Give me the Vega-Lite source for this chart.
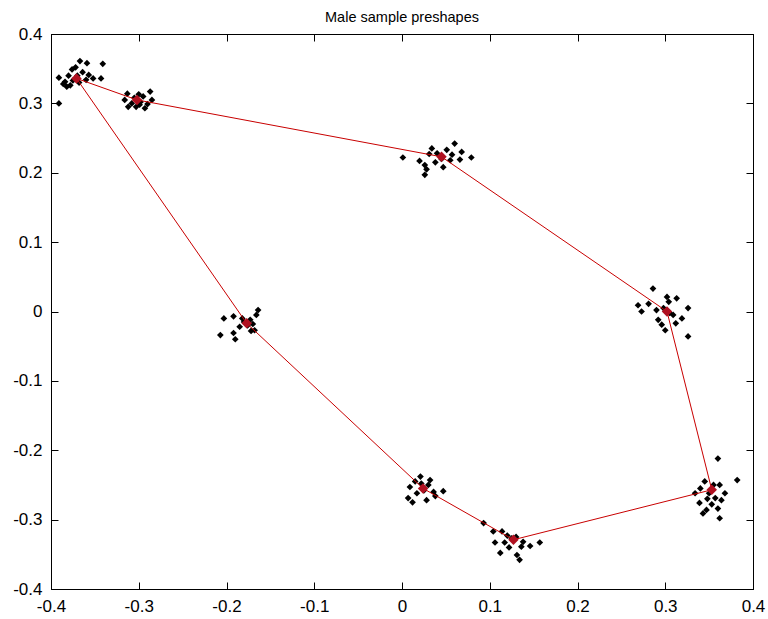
{
  "$schema": "https://vega.github.io/schema/vega-lite/v6.json",
  "width": 702,
  "height": 555,
  "autosize": {"type": "none"},
  "padding": {"left": 51, "top": 34, "right": 15, "bottom": 30},
  "background": "white",
  "title": {"text": "Male sample preshapes", "font": "Liberation Sans", "fontSize": 14.5, "fontWeight": "normal", "color": "black", "offset": 0, "anchor": "middle", "frame": "group"},
  "config": {"view": {"stroke": "black", "strokeWidth": 1}},
  "datasets": {
    "samples": [
      {"x": -0.367, "y": 0.361}, {"x": -0.359, "y": 0.358}, {"x": -0.341, "y": 0.357}, {"x": -0.376, "y": 0.349}, {"x": -0.391, "y": 0.337}, {"x": -0.384, "y": 0.331}, {"x": -0.382, "y": 0.324}, {"x": -0.378, "y": 0.326}, {"x": -0.352, "y": 0.336}, {"x": -0.343, "y": 0.336}, {"x": -0.391, "y": 0.300}, {"x": -0.370, "y": 0.340}, {"x": -0.364, "y": 0.345}, {"x": -0.375, "y": 0.333}, {"x": -0.360, "y": 0.334}, {"x": -0.368, "y": 0.330}, {"x": -0.380, "y": 0.340}, {"x": -0.372, "y": 0.352}, {"x": -0.357, "y": 0.341}, {"x": -0.386, "y": 0.328},
      {"x": -0.313, "y": 0.314}, {"x": -0.312, "y": 0.295}, {"x": -0.293, "y": 0.293}, {"x": -0.287, "y": 0.317}, {"x": -0.285, "y": 0.305}, {"x": -0.299, "y": 0.298}, {"x": -0.305, "y": 0.308}, {"x": -0.298, "y": 0.302}, {"x": -0.308, "y": 0.300}, {"x": -0.295, "y": 0.310}, {"x": -0.316, "y": 0.305}, {"x": -0.290, "y": 0.299}, {"x": -0.303, "y": 0.295}, {"x": -0.300, "y": 0.313},
      {"x": 0.001, "y": 0.222}, {"x": 0.020, "y": 0.217}, {"x": 0.026, "y": 0.211}, {"x": 0.028, "y": 0.205}, {"x": 0.026, "y": 0.197}, {"x": 0.034, "y": 0.235}, {"x": 0.060, "y": 0.242}, {"x": 0.068, "y": 0.230}, {"x": 0.066, "y": 0.219}, {"x": 0.079, "y": 0.222}, {"x": 0.047, "y": 0.208}, {"x": 0.055, "y": 0.218}, {"x": 0.051, "y": 0.233}, {"x": 0.040, "y": 0.228}, {"x": 0.045, "y": 0.220}, {"x": 0.038, "y": 0.215}, {"x": 0.057, "y": 0.226}, {"x": 0.031, "y": 0.227},
      {"x": 0.286, "y": 0.033}, {"x": 0.269, "y": 0.009}, {"x": 0.273, "y": 0.000}, {"x": 0.281, "y": 0.011}, {"x": 0.302, "y": 0.021}, {"x": 0.304, "y": 0.014}, {"x": 0.292, "y": -0.012}, {"x": 0.296, "y": -0.019}, {"x": 0.300, "y": -0.027}, {"x": 0.309, "y": -0.005}, {"x": 0.319, "y": -0.010}, {"x": 0.326, "y": 0.005}, {"x": 0.326, "y": -0.036}, {"x": 0.313, "y": 0.019}, {"x": 0.298, "y": 0.005}, {"x": 0.305, "y": -0.002}, {"x": 0.290, "y": 0.002}, {"x": 0.312, "y": -0.017},
      {"x": 0.360, "y": -0.212}, {"x": 0.382, "y": -0.243}, {"x": 0.345, "y": -0.245}, {"x": 0.340, "y": -0.255}, {"x": 0.334, "y": -0.262}, {"x": 0.362, "y": -0.250}, {"x": 0.364, "y": -0.272}, {"x": 0.360, "y": -0.284}, {"x": 0.347, "y": -0.286}, {"x": 0.343, "y": -0.291}, {"x": 0.362, "y": -0.298}, {"x": 0.357, "y": -0.269}, {"x": 0.350, "y": -0.262}, {"x": 0.355, "y": -0.250}, {"x": 0.348, "y": -0.270}, {"x": 0.368, "y": -0.262}, {"x": 0.339, "y": -0.276}, {"x": 0.353, "y": -0.278},
      {"x": 0.093, "y": -0.305}, {"x": 0.104, "y": -0.317}, {"x": 0.114, "y": -0.317}, {"x": 0.106, "y": -0.333}, {"x": 0.112, "y": -0.348}, {"x": 0.131, "y": -0.351}, {"x": 0.134, "y": -0.358}, {"x": 0.136, "y": -0.339}, {"x": 0.146, "y": -0.338}, {"x": 0.157, "y": -0.333}, {"x": 0.117, "y": -0.333}, {"x": 0.138, "y": -0.332}, {"x": 0.125, "y": -0.327}, {"x": 0.120, "y": -0.323}, {"x": 0.130, "y": -0.325}, {"x": 0.122, "y": -0.340},
      {"x": 0.009, "y": -0.253}, {"x": 0.021, "y": -0.238}, {"x": 0.032, "y": -0.243}, {"x": 0.047, "y": -0.259}, {"x": 0.036, "y": -0.260}, {"x": 0.007, "y": -0.269}, {"x": 0.012, "y": -0.275}, {"x": 0.028, "y": -0.272}, {"x": 0.017, "y": -0.262}, {"x": 0.030, "y": -0.250}, {"x": 0.022, "y": -0.248}, {"x": 0.025, "y": -0.258}, {"x": 0.015, "y": -0.245}, {"x": 0.038, "y": -0.266},
      {"x": -0.203, "y": -0.010}, {"x": -0.207, "y": -0.034}, {"x": -0.192, "y": -0.031}, {"x": -0.190, "y": -0.040}, {"x": -0.192, "y": -0.007}, {"x": -0.164, "y": 0.002}, {"x": -0.166, "y": -0.005}, {"x": -0.168, "y": -0.027}, {"x": -0.185, "y": -0.022}, {"x": -0.173, "y": -0.012}, {"x": -0.180, "y": -0.015}, {"x": -0.176, "y": -0.020}, {"x": -0.170, "y": -0.018}, {"x": -0.182, "y": -0.010}, {"x": -0.172, "y": -0.028}
    ],
    "mean": [
      {"i": 1, "x": -0.371, "y": 0.336},
      {"i": 2, "x": -0.302, "y": 0.305},
      {"i": 3, "x": 0.045, "y": 0.223},
      {"i": 4, "x": 0.302, "y": 0.000},
      {"i": 5, "x": 0.353, "y": -0.257},
      {"i": 6, "x": 0.127, "y": -0.329},
      {"i": 7, "x": 0.024, "y": -0.255},
      {"i": 8, "x": -0.177, "y": -0.017},
      {"i": 9, "x": -0.371, "y": 0.336}
    ]
  },
  "layer": [
    {
      "data": {"name": "samples"},
      "mark": {"type": "point", "shape": "diamond", "filled": true, "color": "black", "size": 45, "opacity": 1},
      "encoding": {
        "x": {"field": "x", "type": "quantitative", "scale": {"domain": [-0.4, 0.4], "nice": false, "zero": false},
          "axis": {"orient": "top", "labels": false, "values": [-0.4, -0.3, -0.2, -0.1, 0, 0.1, 0.2, 0.3, 0.4], "tickSize": -7, "tickColor": "black", "domainColor": "black", "grid": false, "title": null}},
        "y": {"field": "y", "type": "quantitative", "scale": {"domain": [-0.4, 0.4], "nice": false, "zero": false},
          "axis": {"orient": "right", "labels": false, "values": [-0.4, -0.3, -0.2, -0.1, 0, 0.1, 0.2, 0.3, 0.4], "tickSize": -7, "tickColor": "black", "domainColor": "black", "grid": false, "title": null}}
      }
    },
    {
      "data": {"name": "mean"},
      "mark": {"type": "line", "color": "#c80000", "strokeWidth": 1},
      "encoding": {
        "order": {"field": "i", "type": "quantitative"},
        "x": {"field": "x", "type": "quantitative",
          "axis": {"orient": "bottom", "values": [-0.4, -0.3, -0.2, -0.1, 0, 0.1, 0.2, 0.3, 0.4], "labelExpr": "toString(round(datum.value*10)/10)", "tickSize": -7, "tickColor": "black", "domainColor": "black", "grid": false, "title": null, "labelFont": "Liberation Sans", "labelFontSize": 17, "labelColor": "black", "labelPadding": 16, "labelFlush": false}},
        "y": {"field": "y", "type": "quantitative",
          "axis": {"orient": "left", "values": [-0.4, -0.3, -0.2, -0.1, 0, 0.1, 0.2, 0.3, 0.4], "labelExpr": "toString(round(datum.value*10)/10)", "tickSize": -7, "tickColor": "black", "domainColor": "black", "grid": false, "title": null, "labelFont": "Liberation Sans", "labelFontSize": 17, "labelColor": "black", "labelPadding": 16, "labelFlush": false}}
      }
    },
    {
      "data": {"name": "mean"},
      "transform": [{"filter": "datum.i < 9"}],
      "mark": {"type": "point", "shape": "diamond", "filled": true, "color": "#b01020", "size": 110, "opacity": 1},
      "encoding": {
        "x": {"field": "x", "type": "quantitative", "axis": null},
        "y": {"field": "y", "type": "quantitative", "axis": null}
      }
    }
  ],
  "resolve": {"axis": {"x": "independent", "y": "independent"}}
}
